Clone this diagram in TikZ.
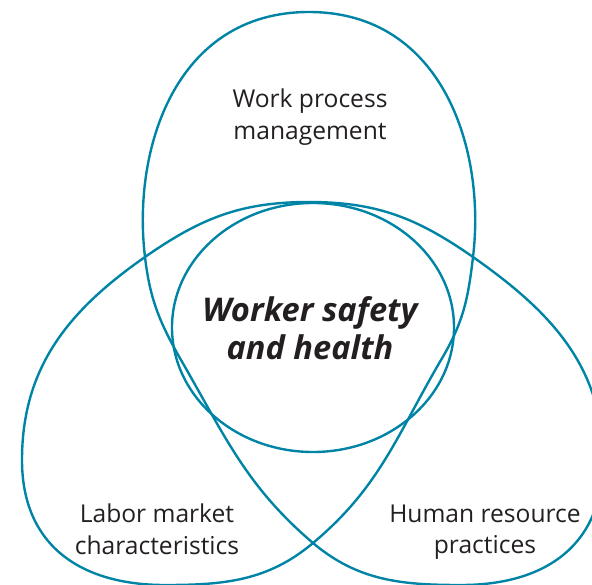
\documentclass[tikz,border=0pt]{standalone}
\usepackage{fontspec}
\setmainfont{Open Sans}
\usepackage{xcolor}
\usepackage{tikz}
\definecolor{vennblue}{RGB}{0,132,166}
\definecolor{labelgray}{RGB}{35,31,32}

\begin{document}
\begin{tikzpicture}[x=0.025cm,y=-0.025cm,
  loop/.style={draw=vennblue,line width=1.7pt},
  area/.style={text=labelgray,align=center,inner sep=0pt,
    font=\fontsize{17.5}{22.5}\selectfont},
  core/.style={area,font=\fontsize{23.2}{27}\selectfont\bfseries\itshape}]
\useasboundingbox (0,0) rectangle (592,585);
% one closed line with three lobes
\draw[loop] (145,257) .. controls (132,150) and (175,12) .. (309,12)
  .. controls (443,12) and (486,150) .. (473,257)
  .. controls (468,300) and (463,323) .. (441,360)
  .. controls (397,435) and (380,487) .. (313,543)
  .. controls (268,581) and (224,585) .. (165,585)
  .. controls (80,585) and (22,545) .. (22,460)
  .. controls (22,367) and (69,310) .. (145,257)
  .. controls (201,218) and (241,202) .. (309,202)
  .. controls (377,202) and (417,218) .. (473,257)
  .. controls (550,311) and (603,366) .. (603,460)
  .. controls (603,545) and (546,585) .. (461,585)
  .. controls (402,585) and (358,581) .. (313,543)
  .. controls (246,486) and (225,436) .. (181,360)
  .. controls (160,323) and (150,300) .. (145,257) -- cycle;
% the circle in the middle
\draw[loop] (313,327.5) ellipse [x radius=141, y radius=124.5];
\node[area] (wpm) at (310,117) {Work process\\management};
\node[core] (wsh) at (310,328) {Worker safety\\and health};
\node[area] (lmc) at (157,529) {Labor market\\characteristics};
\node[area] (hrp) at (485,532) {Human resource\\practices};
\end{tikzpicture}
\end{document}
